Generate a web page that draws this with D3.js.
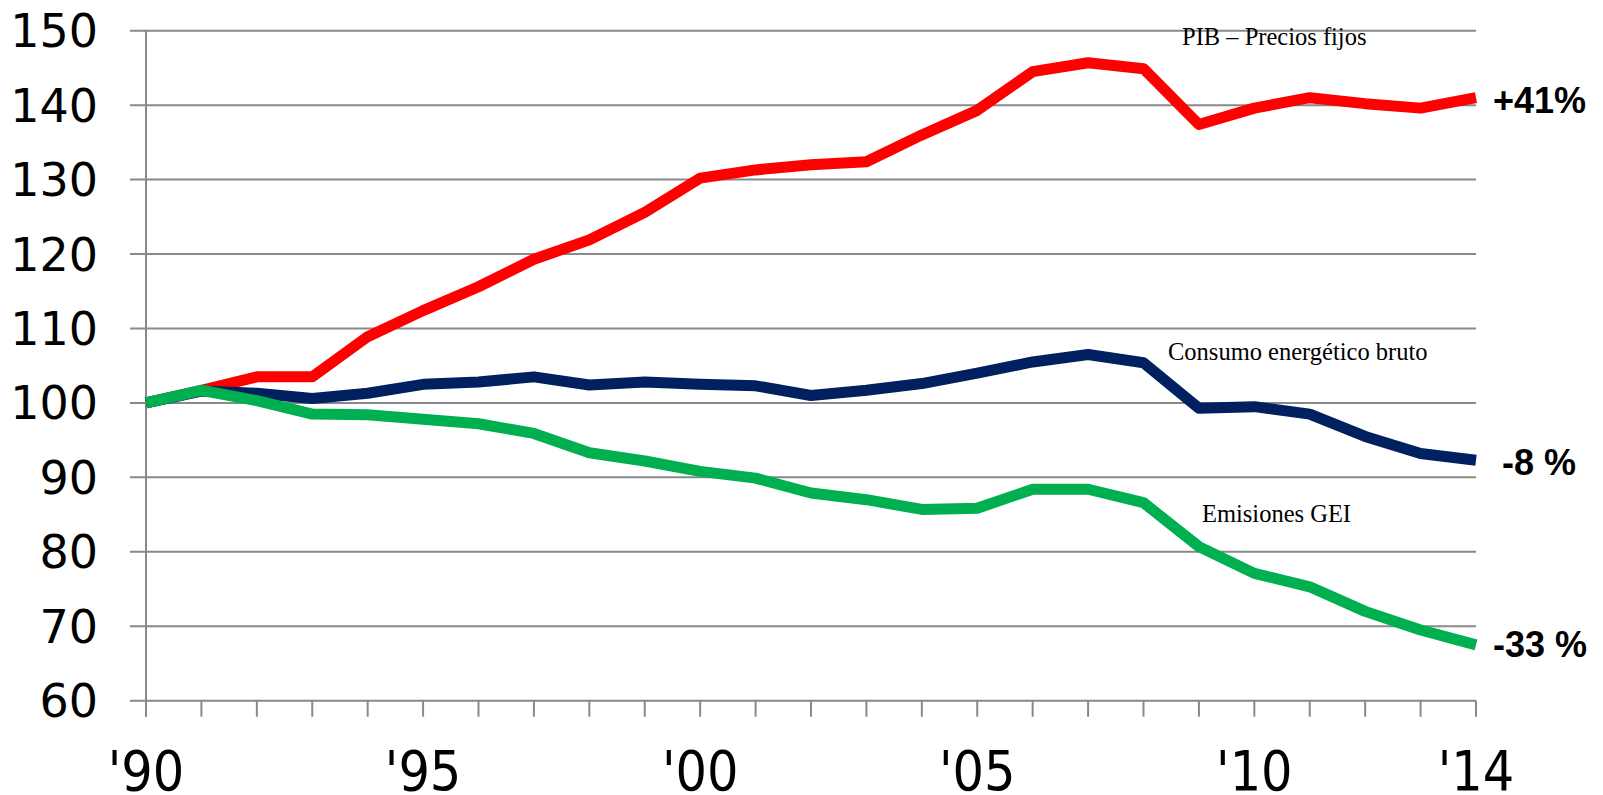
<!DOCTYPE html>
<html>
<head>
<meta charset="utf-8">
<script src="https://cdn.jsdelivr.net/npm/d3@7"></script>
<style>
  body { margin: 0; background: #fff; }
  svg { display: block; }
</style>
</head>
<body>
<script>
// index 1990 = 100
const years = d3.range(1990, 2015);
const pib = [100, 101.7, 103.5, 103.5, 108.9, 112.4, 115.6, 119.3, 121.9, 125.6, 130.2, 131.3, 132.0, 132.4, 136.0, 139.3, 144.5, 145.7, 144.9, 137.4, 139.6, 141.0, 140.2, 139.6, 141.0];
const consumo = [100, 101.6, 101.3, 100.6, 101.3, 102.5, 102.8, 103.5, 102.4, 102.8, 102.5, 102.3, 101.0, 101.7, 102.6, 104.0, 105.5, 106.5, 105.4, 99.3, 99.5, 98.5, 95.5, 93.2, 92.3];
const emisiones = [100, 101.7, 100.3, 98.5, 98.4, 97.8, 97.2, 95.9, 93.3, 92.2, 90.8, 89.9, 87.9, 87.0, 85.7, 85.85, 88.4, 88.4, 86.6, 80.7, 77.1, 75.3, 72.0, 69.5, 67.5];
const yTicks = [60, 70, 80, 90, 100, 110, 120, 130, 140, 150];
const xTickYears = [1990, 1995, 2000, 2005, 2010, 2014];

const series = [
  { name: "PIB – Precios fijos", values: pib, color: "#ff0000", end: "+41%" },
  { name: "Consumo energético bruto", values: consumo, color: "#002060", end: "-8 %" },
  { name: "Emisiones GEI", values: emisiones, color: "#00b050", end: "-33 %" }
];

const width = 1603, height = 795;
const svg = d3.select("body").append("svg").attr("width", width).attr("height", height);

const x = d3.scaleLinear().domain([1990, 2014]).range([146, 1476]);
const y = d3.scaleLinear().domain([60, 150]).range([700.7, 30.7]);
const grey = "#898989";

// horizontal gridlines, extending left of the axis as tick marks
svg.append("g").selectAll("line").data(yTicks).join("line")
  .attr("x1", x(1990) - 16).attr("x2", x(2014))
  .attr("y1", d => y(d)).attr("y2", d => y(d))
  .attr("stroke", grey).attr("stroke-width", 2);

// vertical axis line
svg.append("line")
  .attr("x1", x(1990)).attr("x2", x(1990))
  .attr("y1", y(150)).attr("y2", y(60) + 16)
  .attr("stroke", grey).attr("stroke-width", 2);

// yearly ticks under the x axis
svg.append("g").selectAll("line").data(years).join("line")
  .attr("x1", d => x(d)).attr("x2", d => x(d))
  .attr("y1", y(60)).attr("y2", y(60) + 16)
  .attr("stroke", grey).attr("stroke-width", 2);

// y labels
svg.append("g").selectAll("text").data(yTicks).join("text")
  .attr("x", 98).attr("y", d => y(d) + 16.5)
  .attr("text-anchor", "end")
  .style("font-family", "'DejaVu Sans', Verdana, sans-serif")
  .style("font-size", "46px")
  .text(d => d);

// x labels
svg.append("g").selectAll("text").data(xTickYears).join("text")
  .attr("x", d => x(d)).attr("y", 790)
  .attr("text-anchor", "middle")
  .style("font-family", "'DejaVu Sans Condensed', 'DejaVu Sans', sans-serif")
  .style("font-stretch", "condensed")
  .style("font-size", "55px")
  .text(d => "'" + String(d).slice(2));

const line = d3.line().x((d, i) => x(years[i])).y(d => y(d));

svg.append("g").selectAll("path").data(series).join("path")
  .attr("d", d => line(d.values))
  .attr("fill", "none")
  .attr("stroke", d => d.color)
  .attr("stroke-width", 11)
  .attr("stroke-linejoin", "round");

// end-of-line change labels
const endDx = [17, 26, 17];
const endDy = [15, 15, 12];
svg.append("g").selectAll("text").data(series).join("text")
  .attr("x", (d, i) => x(2014) + endDx[i])
  .attr("y", (d, i) => y(d.values[d.values.length - 1]) + endDy[i])
  .style("font-family", "'Liberation Sans', Arial, sans-serif")
  .style("font-weight", "bold")
  .style("font-size", "36px")
  .text(d => d.end);

// series names
const nameX = [1182, 1168, 1202];
const nameY = [45, 360, 522];
svg.append("g").selectAll("text").data(series).join("text")
  .attr("x", (d, i) => nameX[i])
  .attr("y", (d, i) => nameY[i])
  .style("font-family", "'Liberation Serif', 'Times New Roman', serif")
  .style("font-size", "24.5px")
  .text(d => d.name);
</script>
</body>
</html>
